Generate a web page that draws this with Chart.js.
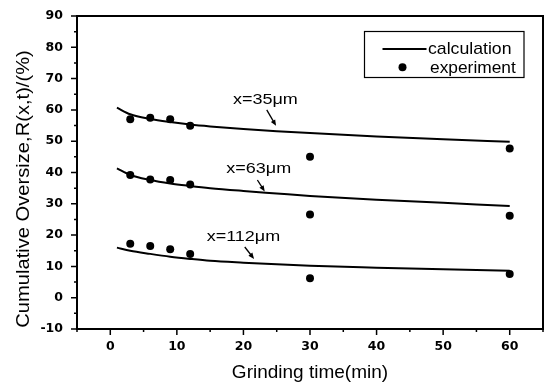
<!DOCTYPE html>
<html>
<head>
<meta charset="UTF-8">
<title>Cumulative Oversize vs Grinding time</title>
<script src="https://cdn.jsdelivr.net/npm/chart.js@4.4.0/dist/chart.umd.min.js"></script>
<style>
  html, body { margin: 0; padding: 0; background: #fff; }
  canvas { display: block; }
</style>
</head>
<body>
<canvas id="myChart" width="549" height="383"></canvas>
<script>
// calculated curves (grinding time in min, R in %)
var calcTime = [1, 3, 6, 9, 12, 15, 20, 25, 30, 40, 50, 60];
var calc35  = [60.7, 58.6, 57.1, 56.1, 55.3, 54.7, 53.9, 53.2, 52.6, 51.5, 50.6, 49.8];
var calc63  = [41.3, 39.2, 37.6, 36.5, 35.7, 35.0, 34.1, 33.3, 32.5, 31.3, 30.3, 29.3];
var calc112 = [16.0, 15.0, 14.0, 13.1, 12.4, 11.8, 11.2, 10.7, 10.2, 9.6, 9.1, 8.6];

// experiment points
var expTime = [3, 6, 9, 12, 30, 60];
var exp35  = [57.0, 57.5, 57.0, 54.9, 45.0, 47.7];
var exp63  = [39.2, 37.8, 37.6, 36.2, 26.6, 26.2];
var exp112 = [17.2, 16.5, 15.5, 14.0, 6.2, 7.6];

// tick labels
var xTickLabels = [0, 10, 20, 30, 40, 50, 60];
var yTickLabels = [-10, 0, 10, 20, 30, 40, 50, 60, 70, 80, 90];

// size labels on the curves, anchored in data units
var notes = [
  { text: 'x=35\u03bcm',  at: [23.3, 61.9], from: [23.5, 60.0], to: [24.9, 54.9] },
  { text: 'x=63\u03bcm',  at: [22.3, 39.7], from: [22.1, 37.6], to: [23.2, 33.9] },
  { text: 'x=112\u03bcm', at: [20.0, 18.2], from: [20.2, 16.2], to: [21.6, 12.4] }
];

function pts(xs, ys) {
  return xs.map(function (x, i) { return { x: x, y: ys[i] }; });
}

function calcSet(ys) {
  return {
    label: 'calculation', data: pts(calcTime, ys), showLine: true,
    borderColor: '#000', borderWidth: 2, pointRadius: 0,
    cubicInterpolationMode: 'monotone', fill: false
  };
}

function expSet(ys) {
  return {
    label: 'experiment', data: pts(expTime, ys), showLine: false,
    pointRadius: 4, backgroundColor: '#000', borderColor: '#000', borderWidth: 0
  };
}

// draw text stretched horizontally, like the scanned figure
function wideText(ctx, text, x, y, font, sx, align) {
  ctx.save();
  ctx.font = font;
  ctx.textAlign = 'left';
  ctx.textBaseline = 'alphabetic';
  var w = ctx.measureText(text).width * sx;
  var x0 = align === 'center' ? x - w / 2 : x;
  ctx.translate(x0, y);
  ctx.scale(sx, 1);
  ctx.fillText(text, 0, 0);
  ctx.restore();
}

function arrow(ctx, x1, y1, x2, y2) {
  var a = Math.atan2(y2 - y1, x2 - x1);
  ctx.beginPath();
  ctx.moveTo(x1, y1);
  ctx.lineTo(x2 - 4 * Math.cos(a), y2 - 4 * Math.sin(a));
  ctx.lineWidth = 1.3;
  ctx.stroke();
  ctx.beginPath();
  ctx.moveTo(x2, y2);
  ctx.lineTo(x2 - 6 * Math.cos(a) + 2.5 * Math.sin(a), y2 - 6 * Math.sin(a) - 2.5 * Math.cos(a));
  ctx.lineTo(x2 - 6 * Math.cos(a) - 2.5 * Math.sin(a), y2 - 6 * Math.sin(a) + 2.5 * Math.cos(a));
  ctx.closePath();
  ctx.fill();
}

var decorPlugin = {
  id: 'decor',
  afterDraw: function (chart) {
    var ctx = chart.ctx;
    var ca = chart.chartArea;
    var xs = chart.scales.x, ys = chart.scales.y;
    ctx.save();
    ctx.strokeStyle = '#000';
    ctx.fillStyle = '#000';

    // frame
    ctx.lineWidth = 2;
    ctx.strokeRect(ca.left, ca.top, ca.right - ca.left, ca.bottom - ca.top);

    // major / minor ticks, outside
    ctx.lineWidth = 1.5;
    ctx.beginPath();
    xs.ticks.forEach(function (t) {
      var px = xs.getPixelForValue(t.value);
      var len = t.value % 10 === 0 ? 6 : 3;
      ctx.moveTo(px, ca.bottom);
      ctx.lineTo(px, ca.bottom + len);
    });
    ys.ticks.forEach(function (t) {
      var py = ys.getPixelForValue(t.value);
      var len = t.value % 10 === 0 ? 6 : 3;
      ctx.moveTo(ca.left, py);
      ctx.lineTo(ca.left - len, py);
    });
    ctx.stroke();

    // curve labels with arrows
    notes.forEach(function (n) {
      wideText(ctx, n.text, xs.getPixelForValue(n.at[0]), ys.getPixelForValue(n.at[1]),
        '15px "Liberation Sans", Arial, sans-serif', 1.2, 'center');
      arrow(ctx, xs.getPixelForValue(n.from[0]), ys.getPixelForValue(n.from[1]),
        xs.getPixelForValue(n.to[0]), ys.getPixelForValue(n.to[1]));
    });

    // legend box
    var lx = ca.right - 178.5, ly = ca.top + 15.5;
    ctx.lineWidth = 1.2;
    ctx.strokeRect(lx, ly, 159.5, 46);
    ctx.lineWidth = 2;
    ctx.beginPath();
    ctx.moveTo(lx + 18, ly + 17.5);
    ctx.lineTo(lx + 62, ly + 17.5);
    ctx.stroke();
    ctx.beginPath();
    ctx.arc(lx + 38, ly + 35.8, 4, 0, Math.PI * 2);
    ctx.fill();
    wideText(ctx, 'calculation', lx + 63.5, ly + 22.3, '17px "Liberation Sans", Arial, sans-serif', 1.04, 'left');
    wideText(ctx, 'experiment', lx + 65.5, ly + 41, '17px "Liberation Sans", Arial, sans-serif', 1.02, 'left');

    // axis titles
    wideText(ctx, 'Grinding time(min)', 310, 378,
      '19px "Liberation Sans", Arial, sans-serif', 1.0, 'center');
    ctx.save();
    ctx.translate(29, 189);
    ctx.rotate(-Math.PI / 2);
    wideText(ctx, 'Cumulative Oversize,R(x,t)/(%)', 0, 0,
      '19px "Liberation Sans", Arial, sans-serif', 1.06, 'center');
    ctx.restore();

    ctx.restore();
  }
};

var tickFont = { family: 'DejaVu Sans', weight: 'bold', size: 12.5 };

var chart = new Chart(document.getElementById('myChart').getContext('2d'), {
  type: 'scatter',
  data: {
    datasets: [
      calcSet(calc35), calcSet(calc63), calcSet(calc112),
      expSet(exp35), expSet(exp63), expSet(exp112)
    ]
  },
  options: {
    responsive: false,
    animation: false,
    devicePixelRatio: 1,
    layout: { padding: { top: 16, right: 6, left: 0, bottom: 0 } },
    plugins: { legend: { display: false }, tooltip: { enabled: false } },
    scales: {
      x: {
        type: 'linear', min: -5, max: 65,
        ticks: {
          stepSize: 5, autoSkip: false, maxRotation: 0, padding: 10,
          color: '#000', font: tickFont,
          callback: function (v) { return xTickLabels.indexOf(v) >= 0 ? String(v) : ''; }
        },
        grid: { display: false, drawTicks: false },
        border: { display: false },
        afterFit: function (s) { s.height = 54; s.paddingLeft = 0; s.paddingRight = 0; }
      },
      y: {
        type: 'linear', min: -10, max: 90,
        ticks: {
          stepSize: 5, autoSkip: false, padding: 14,
          color: '#000', font: tickFont,
          callback: function (v) { return yTickLabels.indexOf(v) >= 0 ? String(v) : ''; }
        },
        grid: { display: false, drawTicks: false },
        border: { display: false },
        afterFit: function (s) { s.width = 77; s.paddingTop = 0; s.paddingBottom = 0; }
      }
    }
  },
  plugins: [decorPlugin]
});
</script>
</body>
</html>
